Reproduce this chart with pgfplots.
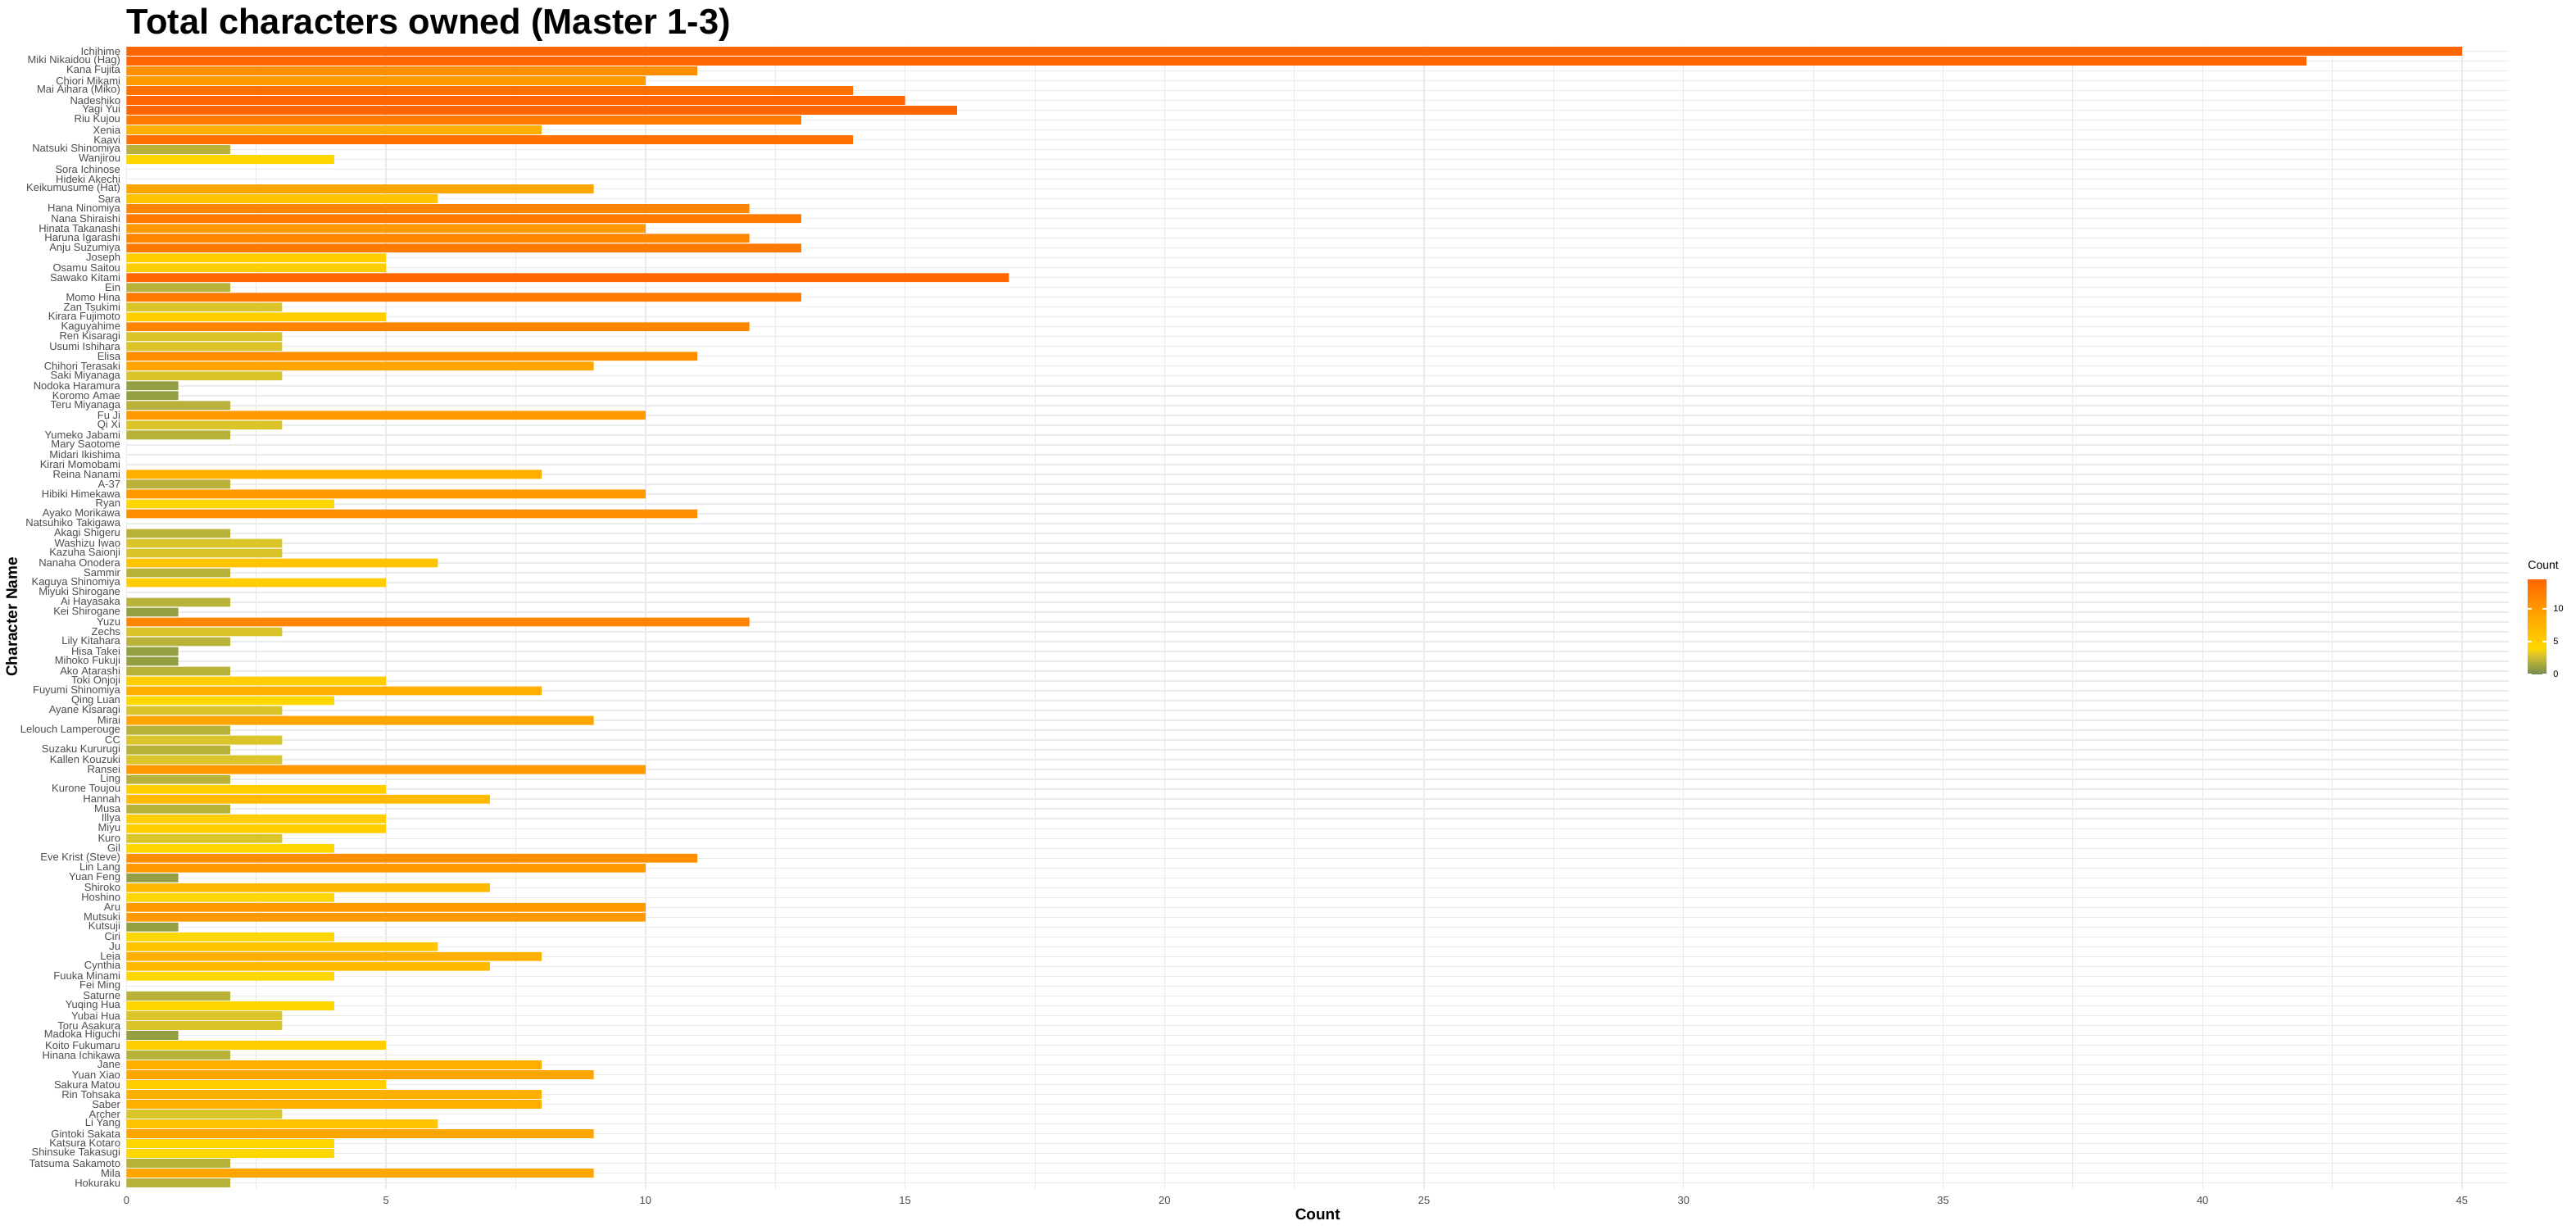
\documentclass[border=0pt]{standalone}
\usepackage{fontspec}
\setmainfont{Liberation Sans}
\usepackage{pgfplots}
\usepackage{pgfplotstable}
\pgfplotsset{compat=1.18}
\usetikzlibrary{calc}
\definecolor{ggrid}{HTML}{EBEBEB}
\definecolor{ggtick}{HTML}{4D4D4D}
\definecolor{bc1}{RGB}{148,158,66}
\definecolor{bc2}{RGB}{184,177,58}
\definecolor{bc3}{RGB}{219,196,42}
\definecolor{bc4}{RGB}{255,215,0}
\definecolor{bc5}{RGB}{255,205,0}
\definecolor{bc6}{RGB}{255,195,0}
\definecolor{bc7}{RGB}{255,185,0}
\definecolor{bc8}{RGB}{255,175,0}
\definecolor{bc9}{RGB}{255,165,0}
\definecolor{bc10}{RGB}{255,155,0}
\definecolor{bc11}{RGB}{255,143,0}
\definecolor{bc12}{RGB}{255,133,0}
\definecolor{bc13}{RGB}{255,122,0}
\definecolor{bc14}{RGB}{255,112,0}
\definecolor{bc15}{RGB}{255,102,0}
\pgfplotsset{colormap={ggfill}{rgb255(0pt)=(112,138,90) rgb255(1pt)=(148,158,66) rgb255(2pt)=(184,177,58) rgb255(3pt)=(219,196,42) rgb255(4pt)=(255,215,0) rgb255(9pt)=(255,165,0) rgb255(14.5pt)=(255,102,0)}}
\pgfplotstableread[col sep=comma]{
idx,name,count
0,Ichihime,45
1,Miki Nikaidou (Hag),42
2,Kana Fujita,11
3,Chiori Mikami,10
4,Mai Aihara (Miko),14
5,Nadeshiko,15
6,Yagi Yui,16
7,Riu Kujou,13
8,Xenia,8
9,Kaavi,14
10,Natsuki Shinomiya,2
11,Wanjirou,4
12,Sora Ichinose,0
13,Hideki Akechi,0
14,Keikumusume (Hat),9
15,Sara,6
16,Hana Ninomiya,12
17,Nana Shiraishi,13
18,Hinata Takanashi,10
19,Haruna Igarashi,12
20,Anju Suzumiya,13
21,Joseph,5
22,Osamu Saitou,5
23,Sawako Kitami,17
24,Ein,2
25,Momo Hina,13
26,Zan Tsukimi,3
27,Kirara Fujimoto,5
28,Kaguyahime,12
29,Ren Kisaragi,3
30,Usumi Ishihara,3
31,Elisa,11
32,Chihori Terasaki,9
33,Saki Miyanaga,3
34,Nodoka Haramura,1
35,Koromo Amae,1
36,Teru Miyanaga,2
37,Fu Ji,10
38,Qi Xi,3
39,Yumeko Jabami,2
40,Mary Saotome,0
41,Midari Ikishima,0
42,Kirari Momobami,0
43,Reina Nanami,8
44,A-37,2
45,Hibiki Himekawa,10
46,Ryan,4
47,Ayako Morikawa,11
48,Natsuhiko Takigawa,0
49,Akagi Shigeru,2
50,Washizu Iwao,3
51,Kazuha Saionji,3
52,Nanaha Onodera,6
53,Sammir,2
54,Kaguya Shinomiya,5
55,Miyuki Shirogane,0
56,Ai Hayasaka,2
57,Kei Shirogane,1
58,Yuzu,12
59,Zechs,3
60,Lily Kitahara,2
61,Hisa Takei,1
62,Mihoko Fukuji,1
63,Ako Atarashi,2
64,Toki Onjoji,5
65,Fuyumi Shinomiya,8
66,Qing Luan,4
67,Ayane Kisaragi,3
68,Mirai,9
69,Lelouch Lamperouge,2
70,CC,3
71,Suzaku Kururugi,2
72,Kallen Kouzuki,3
73,Ransei,10
74,Ling,2
75,Kurone Toujou,5
76,Hannah,7
77,Musa,2
78,Illya,5
79,Miyu,5
80,Kuro,3
81,Gil,4
82,Eve Krist (Steve),11
83,Lin Lang,10
84,Yuan Feng,1
85,Shiroko,7
86,Hoshino,4
87,Aru,10
88,Mutsuki,10
89,Kutsuji,1
90,Ciri,4
91,Ju,6
92,Leia,8
93,Cynthia,7
94,Fuuka Minami,4
95,Fei Ming,0
96,Saturne,2
97,Yuqing Hua,4
98,Yubai Hua,3
99,Toru Asakura,3
100,Madoka Higuchi,1
101,Koito Fukumaru,5
102,Hinana Ichikawa,2
103,Jane,8
104,Yuan Xiao,9
105,Sakura Matou,5
106,Rin Tohsaka,8
107,Saber,8
108,Archer,3
109,Li Yang,6
110,Gintoki Sakata,9
111,Katsura Kotaro,4
112,Shinsuke Takasugi,4
113,Tatsuma Sakamoto,2
114,Mila,9
115,Hokuraku,2
}\chartdata
\newcommand{\bin}[3]{\addplot[xbar, bar width=0.9, bar shift=0pt, draw=none, fill=#1, restrict x to domain=#2:#3] table[x=count, y=idx] {\chartdata};}
\begin{document}
\begin{tikzpicture}
\useasboundingbox (0,0) rectangle (1572pt,750pt);
\begin{axis}[
  at={(77.2pt,24.65pt)}, anchor=south west,
  scale only axis, width=1453.8pt, height=697.7pt,
  xmin=0, xmax=45.9, ymin=-0.6, ymax=115.6,
  y dir=reverse,
  enlargelimits=false,
  axis line style={draw=none},
  major tick length=0pt, minor tick length=0pt,
  xtick={0,5,...,45},
  minor xtick={2.5,7.5,...,42.5},
  ytick={0,...,115},
  yticklabels from table={\chartdata}{name},
  xmajorgrids, xminorgrids, ymajorgrids,
  major grid style={draw=ggrid, line width=0.7pt},
  minor grid style={draw=ggrid, line width=0.4pt},
  tick label style={font=\fontsize{6.5}{7}\selectfont, text=ggtick},
  yticklabel style={anchor=east, inner sep=0pt, xshift=-3.5pt},
  xticklabel style={anchor=center, inner sep=0pt, yshift=-7pt},
  /pgf/number format/assume math mode=true,
  xlabel={Count}, ylabel={Character Name},
  label style={font=\bfseries\fontsize{9.5}{11}\selectfont},
  xlabel style={at={(axis description cs:0.5,-0.0223)}, anchor=center},
  ylabel style={at={(axis description cs:-0.0483,0.5)}, anchor=center},
  title={Total characters owned (Master 1-3)},
  title style={at={(axis description cs:0,1)}, anchor=base west, yshift=0.8pt, inner sep=0pt, font=\bfseries\fontsize{21.7}{26}\selectfont},
  colormap name=ggfill,
  point meta min=0, point meta max=14.5,
  colorbar,
  colorbar style={
    at={($(parent axis.north east)+(3pt,-325.85pt)$)}, anchor=north west,
    scale only axis, width=11.5pt, height=58pt,
    ytick={0,5,10},
    axis line style={draw=none},
    tick align=inside, major tick length=2.3pt,
    ytick style={draw=white, line width=0.6pt},
    ytick pos=both, yticklabel pos=right,
    yticklabel style={font=\fontsize{5.5}{6}\selectfont, text=black, anchor=west, inner sep=0pt, xshift=4pt},
    /pgf/number format/assume math mode=true,
    title={Count},
    title style={at={(axis description cs:0,1)}, anchor=base west, yshift=0pt, inner sep=0pt, font=\fontsize{7}{8}\selectfont},
  },
]
\bin{bc1}{0.5}{1.5}
\bin{bc2}{1.5}{2.5}
\bin{bc3}{2.5}{3.5}
\bin{bc4}{3.5}{4.5}
\bin{bc5}{4.5}{5.5}
\bin{bc6}{5.5}{6.5}
\bin{bc7}{6.5}{7.5}
\bin{bc8}{7.5}{8.5}
\bin{bc9}{8.5}{9.5}
\bin{bc10}{9.5}{10.5}
\bin{bc11}{10.5}{11.5}
\bin{bc12}{11.5}{12.5}
\bin{bc13}{12.5}{13.5}
\bin{bc14}{13.5}{14.5}
\bin{bc15}{14.5}{100}
\end{axis}
\end{tikzpicture}
\end{document}
